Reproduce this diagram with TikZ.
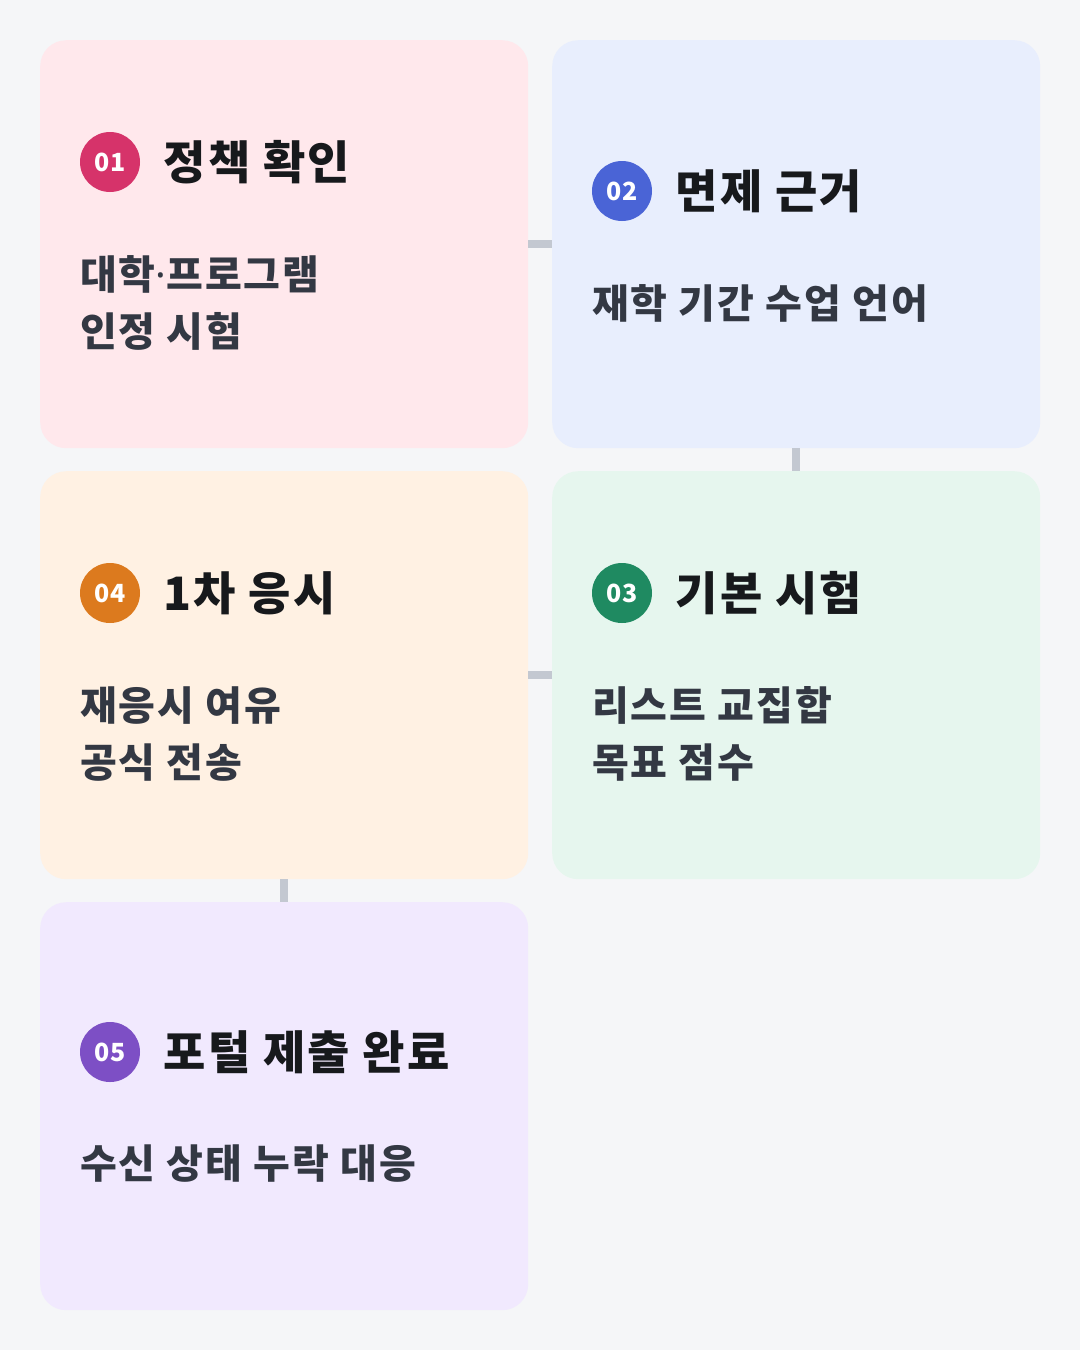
\documentclass[tikz,border=0pt]{standalone}
\usepackage{fontspec}
\setmainfont{Noto Sans CJK KR}[LetterSpace = 5]
\newfontfamily\badgeFont{Noto Sans CJK KR}
\newfontfamily\dotFont{Noto Sans}
\usepackage{tikz}
\usetikzlibrary{positioning}
\tikzstyle{canvas} = [x = 1pt, y = -1pt]
\definecolor{pageColor}{HTML}{F5F6F8}
\definecolor{linkColor}{HTML}{C3C8D1}
\definecolor{titleColor}{HTML}{17191C}
\definecolor{bodyColor}{HTML}{333843}
\definecolor{policyFill}{HTML}{FFE8EC}
\definecolor{policyBadge}{HTML}{D6336A}
\definecolor{waiverFill}{HTML}{E8EEFD}
\definecolor{waiverBadge}{HTML}{4A64D6}
\definecolor{baseFill}{HTML}{E6F6EE}
\definecolor{baseBadge}{HTML}{1F8A61}
\definecolor{firstFill}{HTML}{FFF1E3}
\definecolor{firstBadge}{HTML}{DC7A1E}
\definecolor{portalFill}{HTML}{F1E9FE}
\definecolor{portalBadge}{HTML}{7D4FC5}
\tikzstyle{cardStyle} = [draw=none, rounded corners = 26, minimum width = 488, minimum height = 408, anchor = north west, inner sep = 0]
\tikzstyle{badgeStyle} = [circle, minimum size = 60, inner sep = 0, text = white, font = \badgeFont\fontsize{25}{28}\selectfont\bfseries]
\tikzstyle{titleText} = [inner sep = 0, text = titleColor, font = \fontsize{46}{54}\selectfont\bfseries]
\tikzstyle{bodyText} = [inner sep = 0, align = left, anchor = north west, text = bodyColor, font = \fontsize{40}{57}\selectfont\bfseries]
\tikzstyle{linkLine} = [draw = linkColor, line width = 7.5]
\newcommand{\midDot}{{\dotFont\bfseries\textperiodcentered}}
\newcommand{\stepCard}[9]{
  \node [cardStyle, fill = #4] (#1) at (#2, #3) {};
  \node [badgeStyle, fill = #5] (#1Badge) at (#2 + 70, #3 + #9) {#6};
  \node [titleText, right = 23pt of #1Badge] (#1Title) {#7};
  \node [bodyText] (#1Body) at ([yshift = -93pt] #1Badge.west) {#8};
}

\begin{document}
\begin{tikzpicture}[canvas]
    \fill [pageColor] (0, 0) rectangle (1080, 1350);
    \useasboundingbox (0, 0) rectangle (1080, 1350);
    \stepCard{policy}{40}{40}{policyFill}{policyBadge}{01}{정책 확인}{대학\midDot 프로그램\\인정 시험}{122}
    \stepCard{waiver}{552}{40}{waiverFill}{waiverBadge}{02}{면제 근거}{재학 기간 수업 언어}{151}
    \stepCard{base}{552}{471}{baseFill}{baseBadge}{03}{기본 시험}{리스트 교집합\\목표 점수}{122}
    \stepCard{first}{40}{471}{firstFill}{firstBadge}{04}{1차 응시}{재응시 여유\\공식 전송}{122}
    \stepCard{portal}{40}{902}{portalFill}{portalBadge}{05}{포털 제출 완료}{수신 상태 누락 대응}{150}
    % links between the steps
    \draw [linkLine] (policy.east) -- (waiver.west);
    \draw [linkLine] (waiver.south) -- (base.north);
    \draw [linkLine] (base.west) -- (first.east);
    \draw [linkLine] (first.south) -- (portal.north);
\end{tikzpicture}
\end{document}
